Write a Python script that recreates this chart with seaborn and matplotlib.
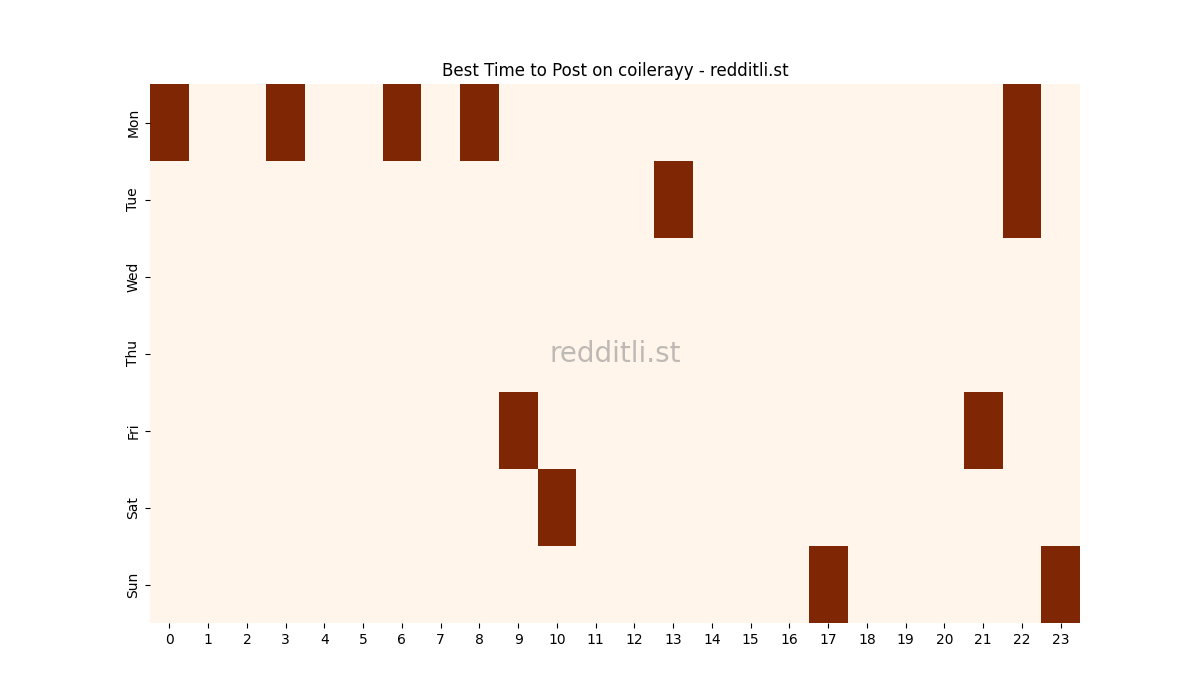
import numpy as np
import pandas as pd
import matplotlib
matplotlib.use("Agg")
import matplotlib.pyplot as plt
import seaborn as sb

days = ["Mon", "Tue", "Wed", "Thu", "Fri", "Sat", "Sun"]
hours = list(range(24))
# best hours per day (1 = best time)
bestHours = {
    "Mon": [0, 3, 6, 8, 22],
    "Tue": [13, 22],
    "Wed": [],
    "Thu": [],
    "Fri": [9, 21],
    "Sat": [10],
    "Sun": [17, 23],
}

grid = pd.DataFrame(0, index=days, columns=hours)
for d in days:
    for h in bestHours[d]:
        grid.loc[d, h] = 1

fig, ax = plt.subplots(figsize=(12, 7), dpi=100)
sb.heatmap(grid, cmap="Oranges", cbar=False, ax=ax, vmin=0, vmax=1)
ax.set_title("Best Time to Post on coilerayy - redditli.st")
ax.text(0.5, 0.5, "redditli.st", transform=ax.transAxes, ha="center", va="center",
        fontsize=20, color="#7f7f7f", alpha=0.5)
plt.savefig("out.png", dpi=100)
